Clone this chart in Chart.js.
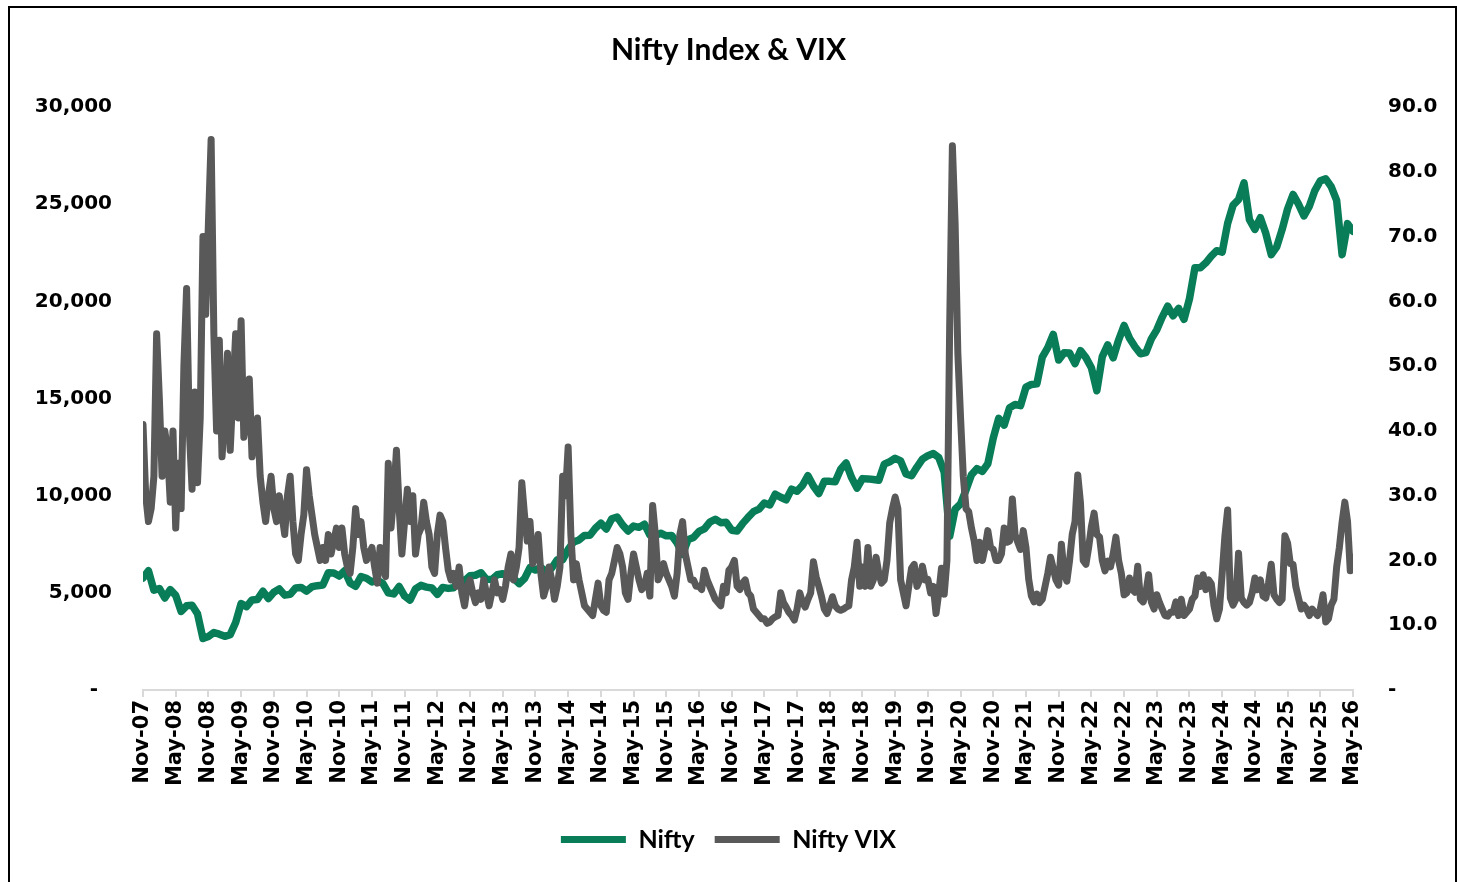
<!DOCTYPE html>
<html>
<head>
<meta charset="utf-8" />
<title>Nifty Index &amp; VIX</title>
<style>
  html, body { margin: 0; padding: 0; background: #fff; }
  #wrap { position: relative; width: 1457px; height: 882px; overflow: hidden; }
  #frame { position: absolute; left: 8px; top: 6px; width: 1445px; height: 890px;
           border: 2px solid #000; border-bottom: none; pointer-events: none; }
</style>
</head>
<body>
<div id="wrap">
  <canvas id="myChart" width="1457" height="882"></canvas>
  <div id="frame"></div>
</div>
<script src="https://cdn.jsdelivr.net/npm/chart.js@4.4.1/dist/chart.umd.min.js"></script>
<script>

// axis labels, one every 6 months starting Nov-07
var xLabels = ['Nov-07','May-08','Nov-08','May-09','Nov-09','May-10','Nov-10','May-11','Nov-11','May-12',
    'Nov-12','May-13','Nov-13','May-14','Nov-14','May-15','Nov-15','May-16','Nov-16','May-17',
    'Nov-17','May-18','Nov-18','May-19','Nov-19','May-20','Nov-20','May-21','Nov-21','May-22',
    'Nov-22','May-23','Nov-23','May-24','Nov-24','May-25','Nov-25','May-26'];

// Nifty, one value per month from Nov-07
var niftyClose = [
    5762, 6139,
    5137, 5224, 4735, 5166, 4870, 4040, 4333, 4360, 3921, 2650, 2755, 2959,
    2874, 2763, 2850, 3474, 4449, 4291, 4636, 4662, 5084, 4712, 5033, 5201,
    4882, 4922, 5249, 5278, 5087, 5313, 5368, 5402, 6030, 6018, 5863, 6135,
    5506, 5333, 5834, 5750, 5561, 5647, 5482, 5001, 4943, 5327, 4832, 4624,
    5199, 5385, 5296, 5248, 4924, 5279, 5229, 5259, 5703, 5620, 5880, 5905,
    6035, 5693, 5683, 5930, 5986, 5842, 5742, 5472, 5735, 6299, 6176, 6304,
    6090, 6277, 6704, 6696, 7230, 7611, 7721, 7954, 7965, 8322, 8588, 8283,
    8809, 8902, 8491, 8182, 8434, 8369, 8533, 7971, 7949, 8066, 7935, 7946,
    7564, 6987, 7738, 7850, 8160, 8288, 8639, 8786, 8611, 8626, 8224, 8186,
    8561, 8880, 9174, 9304, 9621, 9521, 10077, 9918, 9789, 10335, 10227, 10531,
    11028, 10493, 10114, 10739, 10736, 10714, 11357, 11681, 10930, 10387, 10877, 10863,
    10831, 10793, 11624, 11748, 11923, 11789, 11118, 11023, 11474, 11877, 12056, 12168,
    11962, 11202, 7900, 9300, 9580, 10302, 11073, 11388, 11248, 11642, 12969, 13982,
    13635, 14529, 14691, 14631, 15583, 15722, 15763, 17132, 17618, 18300, 16983, 17354,
    17340, 16794, 17465, 17103, 16585, 15400, 17158, 17759, 17094, 18012, 18758, 18105,
    17662, 17304, 17360, 18065, 18534, 19189, 19754, 19254, 19638, 19080, 20133, 21731,
    21726, 21983, 22327, 22605, 22531, 24011, 24951, 25236, 26100, 24205, 23700, 24300,
    23500, 22400, 22800, 23700, 24750, 25500, 25000, 24400, 24900, 25700, 26200, 26300,
    25900, 25200, 22400, 24000, 23600
];

// Nifty VIX, two values per month (1st and 2nd half) from Nov-07
var vixLevel = [
    41, 30, 26, 28,
    33, 55, 45, 33, 40, 37, 29, 40, 25, 35, 28, 50, 62, 40, 31, 46, 32, 42, 70, 58, 72, 85, 55, 40,
    54, 36, 42, 52, 37, 46, 55, 42, 57, 39, 42, 48, 36, 40, 42, 33, 29, 26, 30, 33, 28, 26, 30, 27,
    24, 30, 33, 26, 21, 20, 24, 27, 34, 30, 27, 24, 22, 20, 22, 20, 24, 21, 23, 25, 22, 25, 21, 19,
    18, 22, 28, 24, 26, 22, 20, 21, 22, 19, 16.5, 22, 19, 17.5, 35, 25, 30, 37, 28, 21, 26, 31, 26, 30,
    21, 24, 25, 29, 26, 24, 19, 18, 24, 27, 26, 22, 18.5, 17, 18, 16, 19, 15, 13, 16, 17, 15, 13.5, 15,
    14, 17, 15, 13, 15, 17, 15, 15.5, 14, 16, 19, 21, 17, 19, 22, 32, 27, 23, 26, 19.5, 21, 24, 18, 14.5,
    16, 19, 17, 14, 16, 19, 33, 30, 37.5, 24, 17, 19.5, 17, 15, 13, 12.5, 12, 11.5, 14, 16.5, 13, 12.3, 12, 17,
    18, 20, 22, 21, 19, 15, 14, 18, 21, 19, 17, 15.5, 16, 18, 14.5, 28.5, 24, 17, 18, 19.5, 18, 17, 16, 14.5,
    18, 24, 26, 21, 19, 17, 17, 16, 16, 15.5, 18.5, 17, 16, 15, 14, 13.5, 13, 16, 15, 18.5, 19, 20, 16, 15.5,
    16.5, 17, 15, 14.5, 12.5, 12, 11.5, 11, 11, 10.3, 10.5, 11, 11.3, 11.5, 15, 13.5, 12.8, 12, 11.5, 10.8, 12.5, 15, 13.5, 12.8,
    14, 15, 19.8, 17.5, 16, 14.4, 12.5, 11.8, 13, 14.4, 13, 12.5, 12.3, 12.5, 12.8, 13, 17, 19, 22.8, 16, 19, 16, 22, 16,
    17, 20.5, 18, 16.5, 17, 20, 25.8, 28, 29.8, 28, 17, 15, 13, 16, 18.8, 19.4, 16, 17, 19.1, 17, 17.1, 15, 16, 11.8,
    15, 18.8, 14.8, 20, 56, 84, 72, 52, 42, 33, 28, 27.5, 25, 23, 20, 22.8, 20, 22, 24.6, 22, 21.7, 20, 20, 21,
    25, 22.8, 23, 29.5, 24, 22.8, 21.7, 24.6, 22, 17.1, 14.5, 13.6, 14.8, 13.5, 14, 16, 18, 20.5, 18.8, 17, 16.2, 22.5, 18, 16.8,
    20, 24.1, 26, 33.2, 28.9, 20, 19.4, 22, 25.2, 27.3, 24, 23.6, 20, 18.4, 19.9, 19, 21, 23.6, 20, 18, 14.7, 15, 17.3, 15.5,
    15.1, 19.1, 14, 13.6, 15, 17.8, 13.6, 12.5, 14.7, 13.5, 12.5, 11.5, 11.4, 12, 12, 13.6, 11.5, 14, 11.5, 12, 12.5, 14, 14.5, 17.3,
    16, 17.8, 15.5, 17, 16.4, 13, 11, 12.5, 18, 23.8, 27.8, 14.2, 13.1, 14, 21.1, 14.2, 13.5, 13.1, 13.5, 15, 17.3, 15.5, 17, 14.5,
    14.2, 16.5, 19.4, 14.7, 14, 13.5, 14, 23.8, 22.7, 19.5, 19.4, 16, 14.2, 12.5, 13.1, 12.5, 11.5, 12.5, 12, 11.5, 12.5, 14.7, 10.5, 11,
    13.1, 14, 19, 22, 25.9, 29, 26, 18.4, 20.5
];

var niftyPoints = niftyClose.map(function (v, i) { return { x: i, y: v }; });
var vixPoints = vixLevel.map(function (v, i) { return { x: i / 2, y: v }; });

var tickFont = { family: 'DejaVu Sans', weight: 'bold', size: 20 };

var chart = new Chart(document.getElementById('myChart').getContext('2d'), {
    type: 'line',
    data: {
        datasets: [
            {
                label: 'Nifty',
                data: niftyPoints,
                yAxisID: 'yNifty',
                borderColor: '#087d58',
                backgroundColor: '#087d58',
                borderWidth: 7.5,
                pointRadius: 0,
                tension: 0,
                borderJoinStyle: 'round',
                borderCapStyle: 'round',
                order: 2
            },
            {
                label: 'Nifty VIX',
                data: vixPoints,
                yAxisID: 'yVix',
                borderColor: '#595959',
                backgroundColor: '#595959',
                borderWidth: 7,
                pointRadius: 0,
                tension: 0,
                borderJoinStyle: 'round',
                borderCapStyle: 'round',
                order: 1
            }
        ]
    },
    options: {
        responsive: false,
        animation: false,
        layout: { padding: { top: 0, bottom: 20, left: 0, right: 0 } },
        plugins: {
            title: {
                display: true,
                text: 'Nifty Index & VIX',
                color: '#000',
                font: { family: 'Lato', weight: 'bold', size: 30 },
                padding: { top: 32, bottom: 39 }
            },
            legend: {
                position: 'bottom',
                labels: {
                    color: '#000',
                    font: { family: 'Lato', weight: 'bold', size: 25 },
                    boxWidth: 65,
                    boxHeight: 7,
                    padding: 20,
                    generateLabels: function (c) {
                        return c.data.datasets.map(function (ds, i) {
                            return { text: ds.label, fillStyle: ds.borderColor, strokeStyle: ds.borderColor,
                                     lineWidth: 0, fontColor: '#000', datasetIndex: i };
                        });
                    }
                }
            },
            tooltip: { enabled: false }
        },
        scales: {
            x: {
                type: 'linear',
                min: 0,
                max: 222,
                afterFit: function (s) { s.height = 117; },
                ticks: {
                    stepSize: 6,
                    autoSkip: false,
                    maxRotation: 90,
                    minRotation: 90,
                    padding: 3,
                    color: '#000',
                    font: { family: 'DejaVu Sans', weight: 'bold', size: 21 },
                    callback: function (v) { return xLabels[v / 6]; }
                },
                grid: { display: true, drawOnChartArea: false, drawTicks: true, tickLength: 7, color: '#d9d9d9', lineWidth: 2 },
                border: { display: true, color: '#d9d9d9', width: 2 }
            },
            yNifty: {
                position: 'left',
                min: 0,
                max: 30000,
                afterFit: function (s) { s.width = 143; },
                ticks: {
                    stepSize: 5000,
                    padding: 31,
                    color: '#000',
                    font: tickFont,
                    callback: function (v) { return v === 0 ? '-  ' : v.toLocaleString('en-US'); }
                },
                grid: { display: false, drawTicks: false },
                border: { display: false }
            },
            yVix: {
                position: 'right',
                min: 0,
                max: 90,
                afterFit: function (s) { s.width = 104; },
                ticks: {
                    stepSize: 10,
                    padding: 35,
                    color: '#000',
                    font: tickFont,
                    callback: function (v) { return v === 0 ? '-' : v.toFixed(1); }
                },
                grid: { display: false, drawTicks: false },
                border: { display: false }
            }
        }
    }
});

</script>
</body>
</html>
